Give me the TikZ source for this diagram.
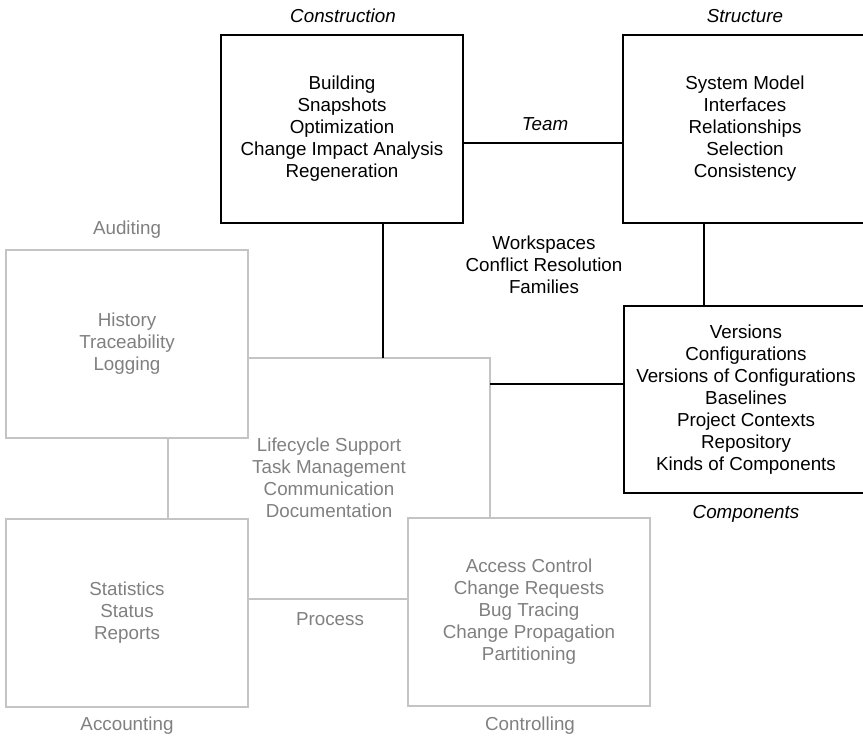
\documentclass[tikz,border=0pt]{standalone}
\usepackage{fontspec}
\setmainfont{Liberation Sans}
\definecolor{boxgray}{HTML}{C4C4C4}
\definecolor{textgray}{HTML}{808080}
\begin{document}
\begin{tikzpicture}[x=1pt,y=-1pt,
  every node/.style={font=\fontsize{18.8}{22}\selectfont, align=center, inner sep=0pt},
  mainbox/.style={draw=black, line width=1.6pt, fill=white, minimum width=242pt, minimum height=188pt},
  sidebox/.style={draw=boxgray, line width=1.6pt, fill=white, minimum width=242pt, minimum height=188pt},
  mainline/.style={draw=black, line width=1.6pt},
  sideline/.style={draw=boxgray, line width=1.6pt},
  caption/.style={font=\fontsize{18.8}{22}\selectfont\itshape},
  sidecaption/.style={text=textgray},
  sidetext/.style={text=textgray}]
\path[use as bounding box] (0,0) rectangle (863,738);
\clip (0,0) rectangle (863,738);

% auditing / lifecycle area (light gray, drawn first)
\node[sidebox] (hist) at (127,344) {};
\node[sidetext] at (hist) {History\\Traceability\\Logging};
\node[sidecaption] (audit) at (127,230) {Auditing};

\node[sidebox] (acct) at (127,613) {};
\node[sidetext] at (acct) {Statistics\\Status\\Reports};
\node[sidecaption] (acctlbl) at (127,726) {Accounting};

\node[sidebox] (ctrl) at (529,612) {};
\node[sidetext] at (ctrl) {Access Control\\Change Requests\\Bug Tracing\\Change Propagation\\Partitioning};
\node[sidecaption] (ctrllbl) at (530,726) {Controlling};

% process area outline between the gray boxes
\coordinate (ptl) at (248,358);
\coordinate (ptr) at (490,358);
\path[sideline] (ptl) -- (ptr) -- (ptr |- ctrl.north);
\node[sidetext] (life) at (329,478) {Lifecycle Support\\Task Management\\Communication\\Documentation};
\path[sideline] (hist.south -| 168,0) -- (acct.north -| 168,0);
\path[sideline] (acct.east |- 0,599) -- (ctrl.west |- 0,599);
\node[sidetext] (proc) at (330,619) {Process};

% construction / structure / components (black)
\node[mainbox] (cons) at (342,129) {};
\node at (cons) {Building\\Snapshots\\Optimization\\Change Impact Analysis\\Regeneration};
\node[caption] (conslbl) at (343,16) {Construction};

\node[mainbox, minimum width=244pt] (struct) at (745,129) {};
\node at (struct) {System Model\\Interfaces\\Relationships\\Selection\\Consistency};
\node[caption] (structlbl) at (745,16) {Structure};

\node[mainbox, minimum width=244pt, minimum height=187pt] (comp) at (746,399.5) {};
\node at (comp) {Versions\\Configurations\\Versions of Configurations\\Baselines\\Project Contexts\\Repository\\Kinds of Components};
\node[caption] (complbl) at (746,514) {Components};

\path[mainline] (cons.east |- 0,143) -- (struct.west |- 0,143);
\node[caption] (team) at (545,124) {Team};
\path[mainline] (cons.south -| 383,0) -- (ptl -| 383,0);
\path[mainline] (struct.south -| 704,0) -- (comp.north -| 704,0);
\path[mainline] (ptr |- 0,384) -- (comp.west |- 0,384);
\node (ws) at (544,265) {Workspaces\\Conflict Resolution\\Families};
\end{tikzpicture}
\end{document}
